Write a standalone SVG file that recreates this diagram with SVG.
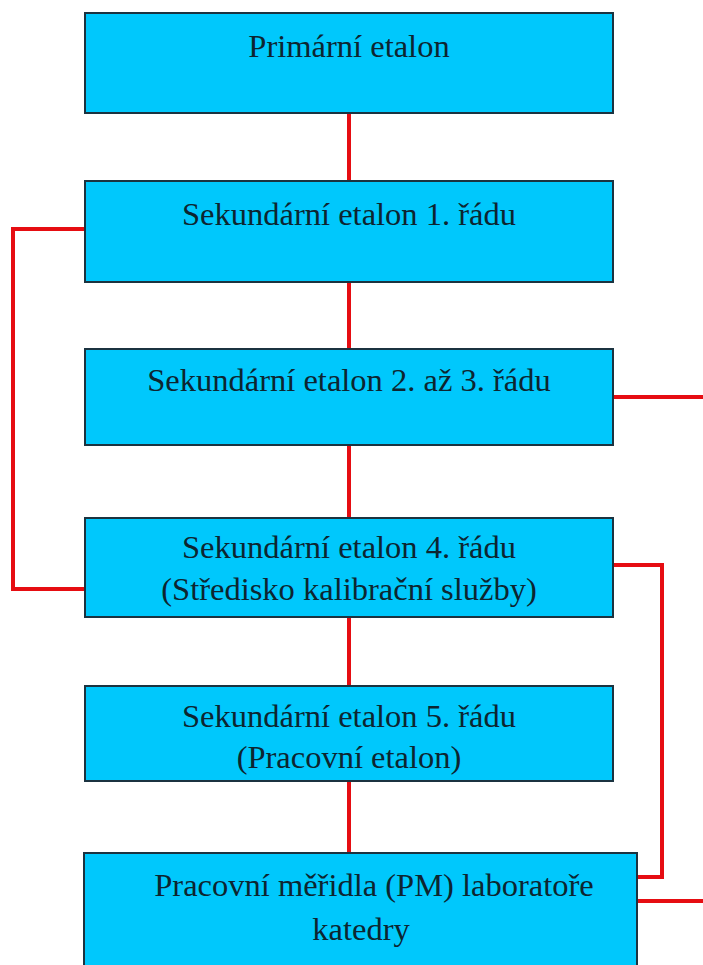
<svg xmlns="http://www.w3.org/2000/svg" width="703" height="965" viewBox="0 0 703 965">
<style>
.box{fill:#00c8fc;stroke:#1b3340;stroke-width:2}
.t{font-family:"Liberation Serif",serif;font-size:32.5px;fill:#0d2530;text-anchor:middle}
.c{fill:none;stroke:#e60d12;stroke-width:4;stroke-linejoin:miter}
</style>
<rect width="703" height="965" fill="#ffffff"/>
<g id="connectors">
<line class="c" x1="349" y1="113" x2="349" y2="181"/>
<line class="c" x1="349" y1="282" x2="349" y2="349"/>
<line class="c" x1="349" y1="445" x2="349" y2="518"/>
<line class="c" x1="349" y1="617" x2="349" y2="686"/>
<line class="c" x1="349" y1="781" x2="349" y2="853"/>
<polyline class="c" points="85,229 13,229 13,589 85,589"/>
<line class="c" x1="613" y1="397" x2="703" y2="397"/>
<polyline class="c" points="613,565 662,565 662,877 637,877"/>
<line class="c" x1="637" y1="901" x2="703" y2="901"/>
</g>
<g id="n1"><rect class="box" x="85" y="13" width="528" height="100"/><text class="t" x="349" y="57">Primární etalon</text></g>
<g id="n2"><rect class="box" x="85" y="181" width="528" height="101"/><text class="t" x="349" y="225">Sekundární etalon 1. řádu</text></g>
<g id="n3"><rect class="box" x="85" y="349" width="528" height="96"/><text class="t" x="349" y="391">Sekundární etalon 2. až 3. řádu</text></g>
<g id="n4"><rect class="box" x="85" y="518" width="528" height="99"/><text class="t" x="349" y="558">Sekundární etalon 4. řádu</text><text class="t" x="349" y="600">(Středisko kalibrační služby)</text></g>
<g id="n5"><rect class="box" x="85" y="686" width="528" height="95"/><text class="t" x="349" y="727">Sekundární etalon 5. řádu</text><text class="t" x="349" y="768">(Pracovní etalon)</text></g>
<g id="n6"><rect class="box" x="84" y="853" width="553" height="120"/><text class="t" x="374" y="896">Pracovní měřidla (PM) laboratoře</text><text class="t" x="361" y="940">katedry</text></g>
</svg>
